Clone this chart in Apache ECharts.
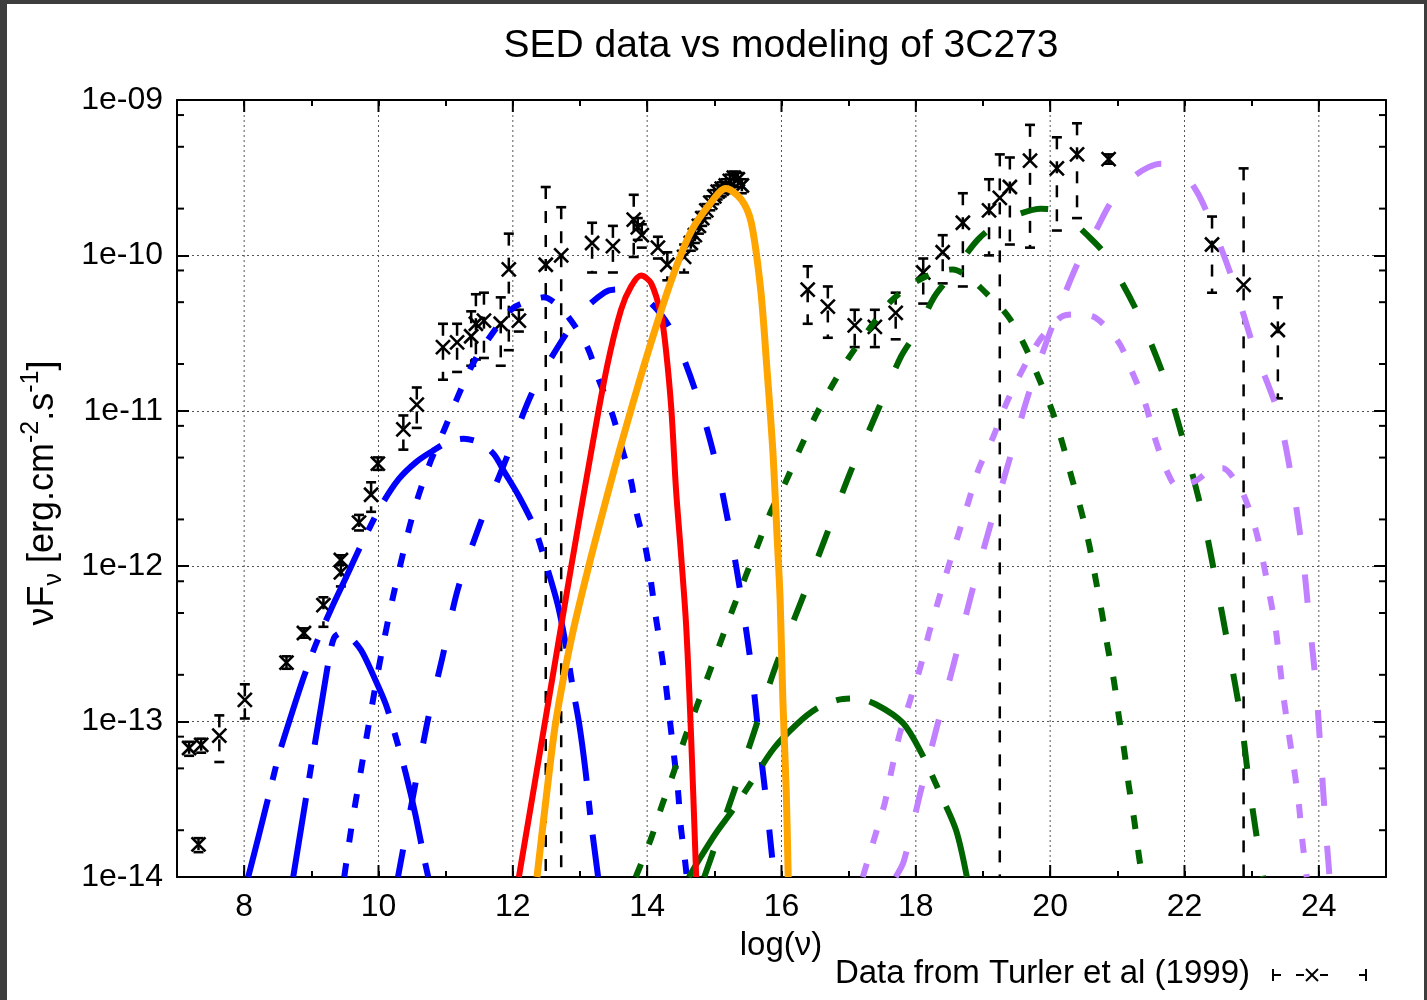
<!DOCTYPE html>
<html><head><meta charset="utf-8">
<script src="https://cdn.jsdelivr.net/npm/echarts@6/dist/echarts.min.js"></script>
<style>html,body{margin:0;padding:0;background:#fff}#c{width:1427px;height:1000px}</style>
</head><body><div id="c"></div>
<script>
// ---------------- DATA (x = log10 nu, y = log10 nuFnu) ----------------
const xTickValues = [8,10,12,14,16,18,20,22,24];
const yMinorTickValues = [2e-14,5e-14,8e-14,2e-13,5e-13,8e-13,2e-12,5e-12,8e-12,2e-11,5e-11,8e-11,2e-10,5e-10,8e-10];

// observed points (Turler et al 1999)
const obsX = [7.18,7.32,7.36,7.63,8.01,8.63,8.89,9.18,9.44,9.44,9.71,9.89,9.99,10.37,10.57,10.96,11.17,11.38,11.45,11.57,11.82,11.94,12.09,12.49,12.72,13.18,13.49,13.80,13.86,13.92,14.16,14.30,14.55,
  14.65,14.71,14.77,14.82,14.88,14.94,15.00,15.05,15.11,15.17,15.23,15.29,15.35,15.41,
  16.39,16.69,17.09,17.39,17.70,18.11,18.40,18.70,19.09,19.25,19.40,19.70,20.10,20.40,20.87,22.41,22.88,23.39];
const obsLogF = [-13.17,-13.79,-13.15,-13.09,-12.86,-12.62,-12.43,-12.25,-11.96,-12.04,-11.72,-11.54,-11.34,-11.12,-10.96,-10.59,-10.56,-10.52,-10.44,-10.42,-10.44,-10.09,-10.42,-10.06,-10.00,-9.92,-9.94,-9.77,-9.82,-9.87,-9.95,-10.06,-10.01,
  -9.92,-9.87,-9.81,-9.76,-9.71,-9.66,-9.62,-9.59,-9.57,-9.55,-9.52,-9.50,-9.51,-9.55,
  -10.22,-10.33,-10.45,-10.46,-10.37,-10.11,-9.98,-9.79,-9.71,-9.63,-9.56,-9.39,-9.44,-9.35,-9.38,-9.93,-10.19,-10.48];
const obsLogLo = [-13.22,-13.84,-13.20,-13.26,-12.98,-12.66,-12.46,-12.39,-11.99,-12.13,-11.77,-11.65,-11.38,-11.25,-11.11,-10.80,-10.75,-10.71,-10.67,-10.66,-10.71,-10.61,-10.49,-15,-15,-10.11,-10.11,-10.01,-9.90,-9.95,-10.02,-10.16,-10.11,
  -9.97,-9.92,-9.86,-9.81,-9.76,-9.71,-9.67,-9.64,-9.62,-9.60,-9.57,-9.55,-9.56,-9.60,
  -10.44,-10.53,-10.59,-10.59,-10.54,-10.31,-10.18,-10.20,-10.00,-15,-9.93,-9.95,-9.84,-9.76,-9.41,-10.24,-15,-10.92];
const obsLogHi = [-13.13,-13.75,-13.11,-12.96,-12.76,-12.58,-12.40,-12.20,-11.93,-11.99,-11.67,-11.46,-11.30,-11.03,-10.85,-10.44,-10.44,-10.36,-10.25,-10.24,-10.27,-9.86,-10.35,-9.56,-9.69,-9.79,-9.81,-9.61,-9.76,-9.80,-9.88,-9.98,-9.93,
  -9.88,-9.83,-9.77,-9.72,-9.67,-9.62,-9.58,-9.55,-9.53,-9.51,-9.48,-9.46,-9.47,-9.51,
  -10.07,-10.20,-10.35,-10.35,-10.24,-10.02,-9.87,-9.60,-9.51,-9.35,-9.37,-9.16,-9.24,-9.15,-9.35,-9.75,-9.44,-10.27];

// model curves
const blueSolidSmallX = [8.73,8.85,9.00,9.15,9.27,9.34,9.44,9.56,9.74,9.92,10.11,10.29,10.41,10.55,10.68,10.74];
const blueSolidSmallLogF = [-14.0,-13.68,-13.28,-12.89,-12.58,-12.46,-12.43,-12.45,-12.54,-12.70,-12.89,-13.15,-13.34,-13.60,-13.88,-14.0];

const blueSolidBigX = [8.06,8.22,8.37,8.52,8.70,8.89,9.07,9.29,9.53,9.79,10.04,10.30,10.56,10.80,11.04,11.27,11.53,11.72,11.87,12.09,12.32,12.49,12.67,12.79,12.90,12.99,13.08,13.16,13.27];
const blueSolidBigLogF = [-14.0,-13.73,-13.47,-13.21,-12.96,-12.71,-12.50,-12.28,-12.06,-11.82,-11.61,-11.44,-11.33,-11.26,-11.20,-11.18,-11.21,-11.28,-11.39,-11.55,-11.75,-11.98,-12.25,-12.51,-12.80,-13.02,-13.31,-13.63,-14.0];

const blueDottedX = [9.49,9.59,9.74,9.89,10.04,10.22,10.46,10.60,10.78,10.98,11.17,11.39,11.65,12.00,12.27,12.46,12.69,12.90,13.12,13.28,13.48,13.63,13.76,13.85,13.98,14.06,14.13,14.21,14.28,14.34,14.40,14.46,14.50,14.56,14.59];
const blueDottedLogF = [-14.0,-13.70,-13.31,-12.93,-12.57,-12.19,-11.75,-11.54,-11.32,-11.12,-10.92,-10.71,-10.53,-10.34,-10.29,-10.27,-10.33,-10.44,-10.60,-10.80,-11.02,-11.25,-11.45,-11.67,-11.89,-12.11,-12.33,-12.55,-12.77,-13.00,-13.22,-13.45,-13.67,-13.88,-14.0];

const blueDashedX = [10.29,10.72,10.95,11.18,11.51,11.91,12.27,12.64,13.02,13.36,13.54,13.76,14.06,14.37,14.74,15.02,15.23,15.40,15.55,15.66,15.78,15.89];
const blueDashedLogF = [-14.0,-13.02,-12.59,-12.15,-11.73,-11.30,-10.90,-10.61,-10.37,-10.24,-10.22,-10.24,-10.31,-10.49,-10.90,-11.33,-11.77,-12.20,-12.65,-13.09,-13.54,-14.0];

const redX = [12.09,12.48,12.87,13.16,13.40,13.61,13.76,13.91,14.06,14.21,14.28,14.36,14.43,14.50,14.58,14.65,14.73];
const redLogF = [-14.0,-13.00,-12.00,-11.28,-10.72,-10.35,-10.20,-10.13,-10.18,-10.39,-10.61,-10.99,-11.51,-11.90,-12.38,-13.05,-14.0];

const orangeX = [12.36,12.51,12.64,12.87,13.13,13.39,13.61,13.98,14.36,14.65,14.95,15.17,15.40,15.55,15.69,15.78,15.87,15.93,15.98,16.02,16.07,16.10];
const orangeLogF = [-14.0,-13.44,-13.00,-12.47,-12.00,-11.57,-11.22,-10.67,-10.16,-9.85,-9.66,-9.57,-9.64,-9.79,-10.22,-10.71,-11.25,-11.77,-12.22,-12.86,-13.44,-14.0];

const greenSolidX = [14.62,14.80,15.02,15.29,15.55,15.89,16.22,16.51,16.84,17.11,17.41,17.81,18.08,18.37,18.60,18.76];
const greenSolidLogF = [-14.0,-13.87,-13.72,-13.56,-13.39,-13.17,-13.02,-12.92,-12.86,-12.85,-12.89,-13.01,-13.20,-13.47,-13.70,-14.0];

const greenDottedX = [13.83,14.06,14.22,14.40,14.55,14.74,14.92,15.10,15.28,15.47,15.66,15.84,16.07,16.28,16.51,16.75,17.00,17.33,17.64,18.08,18.55,18.79,19.04,19.37,19.62,19.83,20.03,20.19,20.32,20.46,20.58,20.68,20.77,20.86,20.95,21.02,21.10,21.17,21.25,21.32,21.37];
const greenDottedLogF = [-14.0,-13.75,-13.54,-13.32,-13.12,-12.90,-12.69,-12.48,-12.27,-12.06,-11.85,-11.65,-11.45,-11.24,-11.03,-10.84,-10.66,-10.46,-10.29,-10.15,-10.09,-10.14,-10.24,-10.39,-10.58,-10.79,-11.00,-11.22,-11.43,-11.64,-11.86,-12.09,-12.30,-12.53,-12.74,-12.96,-13.18,-13.41,-13.63,-13.86,-14.0];

const greenDashedX = [14.85,14.94,15.26,15.59,15.90,16.29,16.66,17.03,17.24,17.45,17.78,18.03,18.27,18.52,18.92,19.24,19.56,19.86,20.09,20.23,20.53,20.81,21.28,21.71,22.00,22.27,22.47,22.66,22.84,22.97,23.12,23.17];
const greenDashedLogF = [-14.0,-13.89,-13.49,-13.07,-12.66,-12.23,-11.81,-11.39,-11.19,-10.98,-10.65,-10.48,-10.27,-10.13,-9.90,-9.79,-9.73,-9.70,-9.71,-9.74,-9.86,-9.99,-10.35,-10.80,-11.22,-11.67,-12.10,-12.54,-12.98,-13.43,-13.87,-14.0];

const purpleDottedX = [17.21,17.39,17.54,17.64,17.76,17.91,18.06,18.19,18.33,18.48,18.63,18.78,18.94,19.15,19.34,19.56,19.82,20.01,20.19,20.38,20.67,21.02,21.23,21.42,21.57,21.75,21.90,22.17,22.39,22.57,22.76,22.88,23.05,23.17,23.27,23.36,23.42,23.48,23.55,23.63,23.70,23.75,23.82];
const purpleDottedLogF = [-14.0,-13.74,-13.52,-13.31,-13.08,-12.87,-12.66,-12.44,-12.23,-12.01,-11.80,-11.59,-11.37,-11.17,-10.96,-10.76,-10.56,-10.46,-10.39,-10.38,-10.40,-10.56,-10.76,-10.96,-11.19,-11.40,-11.49,-11.45,-11.38,-11.37,-11.45,-11.54,-11.75,-11.97,-12.19,-12.41,-12.64,-12.86,-13.07,-13.30,-13.52,-13.75,-14.0];

const purpleDashedX = [17.70,17.82,18.06,18.31,18.57,18.82,19.10,19.39,19.68,20.01,20.41,20.68,20.92,21.28,21.65,21.92,22.17,22.35,22.72,23.03,23.39,23.60,23.75,23.85,23.96,24.03,24.10,24.16];
const purpleDashedLogF = [-14.0,-13.90,-13.47,-13.04,-12.62,-12.19,-11.75,-11.32,-10.89,-10.48,-10.05,-9.84,-9.65,-9.48,-9.41,-9.44,-9.58,-9.74,-10.16,-10.59,-11.01,-11.45,-11.89,-12.31,-12.78,-13.22,-13.67,-14.0];

// ---------------- CHART ----------------
const FONT = 'Liberation Sans, Arial, Helvetica, sans-serif';
const chart = echarts.init(document.getElementById('c'), null, {renderer:'canvas'});
const toPts = (xs, ls) => xs.map((x, i) => [x, Math.pow(10, ls[i])]);

const DASH_SOLID = [80, 20, 14, 20];
const DASH_DOT = [14, 21];
const DASH_DASH = [28, 40];

function curve(name, xs, ls, color, dash, width) {
  return {
    name, type:'line', data: toPts(xs, ls), xAxisIndex:0, yAxisIndex:0,
    symbol:'none', smooth:0.3, silent:true, z:3, clip:true,
    lineStyle:{color, width: width || 6, type: dash, cap:'butt', join:'round'}
  };
}

const axisLineStyle = {show:true, onZero:false, lineStyle:{color:'#000', width:2}};
const gridDot = {stroke:'#555', lineWidth:1, lineDash:[2,3]};

function yLabel(v) {
  const e = Math.round(Math.log10(v));
  return '1e-' + String(-e).padStart(2, '0');
}

const option = {
  animation:false,
  backgroundColor:'#ffffff',
  textStyle:{fontFamily:FONT},
  grid:{left:177, right:41, top:100, bottom:123},
  xAxis:[
    {type:'value', min:7, max:25, interval:1, position:'bottom',
     axisLine:axisLineStyle,
     axisTick:{show:true, inside:true, length:6, lineStyle:{color:'#000', width:2}},
     axisLabel:{show:true, margin:14, fontSize:32, color:'#000', fontFamily:FONT,
       formatter: v => (Math.round(v) % 2 === 0 ? String(Math.round(v)) : '')},
     splitLine:{show:false}},
    {type:'value', min:7, max:25, interval:1, position:'top',
     axisLine:axisLineStyle,
     axisTick:{show:true, inside:true, length:6, lineStyle:{color:'#000', width:2}},
     axisLabel:{show:false}, splitLine:{show:false}}
  ],
  yAxis:[
    {type:'log', logBase:10, min:1e-14, max:1e-9, position:'left',
     axisLine:axisLineStyle,
     axisTick:{show:true, inside:true, length:12, lineStyle:{color:'#000', width:2}},
     axisLabel:{show:true, margin:14, fontSize:32, color:'#000', fontFamily:FONT, formatter:yLabel},
     splitLine:{show:true, lineStyle:{type:[2,3], color:'#555', width:1}}},
    {type:'log', logBase:10, min:1e-14, max:1e-9, position:'right',
     axisLine:axisLineStyle,
     axisTick:{show:true, inside:true, length:12, lineStyle:{color:'#000', width:2}},
     axisLabel:{show:false}, splitLine:{show:false}}
  ],
  series:[
    { // vertical dotted grid lines at major x ticks
      type:'custom', name:'xgrid', silent:true, z:1, clip:false,
      data: xTickValues.map(v => [v, 1e-12]),
      renderItem:(params, api) => {
        const cs = params.coordSys;
        const px = api.coord([api.value(0), 1e-12])[0];
        return {type:'line', shape:{x1:px, y1:cs.y, x2:px, y2:cs.y + cs.height}, style:gridDot};
      }
    },
    { // error bars + crosses
      type:'custom', name:'Data from Turler et al (1999)', silent:true, z:2, clip:true,
      data: obsX.map((x, i) => [x, Math.pow(10, obsLogF[i]), Math.pow(10, obsLogLo[i]), Math.pow(10, obsLogHi[i])]),
      encode:{x:0, y:1},
      renderItem:(params, api) => {
        const x = api.value(0);
        const p = api.coord([x, api.value(1)]);
        const pl = api.coord([x, api.value(2)]);
        const ph = api.coord([x, api.value(3)]);
        const s = 7, c = 5;
        const st = {stroke:'#000', lineWidth:2.6};
        return {type:'group', children:[
          {type:'line', shape:{x1:p[0], y1:ph[1], x2:p[0], y2:pl[1]}, style:{stroke:'#000', lineWidth:2.5, lineDash:[12,12]}},
          {type:'line', shape:{x1:p[0]-c, y1:ph[1], x2:p[0]+c, y2:ph[1]}, style:st},
          {type:'line', shape:{x1:p[0]-c, y1:pl[1], x2:p[0]+c, y2:pl[1]}, style:st},
          {type:'line', shape:{x1:p[0]-s, y1:p[1]-s, x2:p[0]+s, y2:p[1]+s}, style:st},
          {type:'line', shape:{x1:p[0]-s, y1:p[1]+s, x2:p[0]+s, y2:p[1]-s}, style:st}
        ]};
      }
    },
    curve('blueSolidSmall', blueSolidSmallX, blueSolidSmallLogF, '#0000ff', DASH_SOLID),
    curve('blueSolidBig', blueSolidBigX, blueSolidBigLogF, '#0000ff', DASH_SOLID),
    curve('blueDotted', blueDottedX, blueDottedLogF, '#0000ff', DASH_DOT),
    curve('blueDashed', blueDashedX, blueDashedLogF, '#0000ff', DASH_DASH),
    curve('greenDotted', greenDottedX, greenDottedLogF, '#006400', DASH_DOT),
    curve('greenDashed', greenDashedX, greenDashedLogF, '#006400', DASH_DASH),
    curve('greenSolid', greenSolidX, greenSolidLogF, '#006400', DASH_SOLID),
    curve('purpleDotted', purpleDottedX, purpleDottedLogF, '#c080ff', DASH_DOT),
    curve('purpleDashed', purpleDashedX, purpleDashedLogF, '#c080ff', DASH_DASH),
    curve('red', redX, redLogF, '#ff0000', 'solid', 6),
    curve('orange', orangeX, orangeLogF, '#ffa500', 'solid', 7),
    { // long major x ticks (top and bottom)
      type:'custom', name:'xmajor', silent:true, z:10, clip:false,
      data: xTickValues.map(v => [v, 1e-12]),
      renderItem:(params, api) => {
        const cs = params.coordSys;
        const px = api.coord([api.value(0), 1e-12])[0];
        const st = {stroke:'#000', lineWidth:2};
        return {type:'group', children:[
          {type:'line', shape:{x1:px, y1:cs.y + cs.height, x2:px, y2:cs.y + cs.height - 12}, style:st},
          {type:'line', shape:{x1:px, y1:cs.y, x2:px, y2:cs.y + 12}, style:st}
        ]};
      }
    },
    { // minor y ticks (2,5,8 per decade) left and right
      type:'custom', name:'yminor', silent:true, z:10, clip:false,
      data: yMinorTickValues.map(v => [7, v]),
      renderItem:(params, api) => {
        const cs = params.coordSys;
        const py = api.coord([7, api.value(1)])[1];
        const st = {stroke:'#000', lineWidth:2};
        return {type:'group', children:[
          {type:'line', shape:{x1:cs.x, y1:py, x2:cs.x + 7, y2:py}, style:st},
          {type:'line', shape:{x1:cs.x + cs.width, y1:py, x2:cs.x + cs.width - 7, y2:py}, style:st}
        ]};
      }
    }
  ],
  graphic:{elements:[
    {type:'rect', shape:{x:0, y:0, width:7, height:1000}, style:{fill:'#3d3d3d'}, z:100, silent:true},
    {type:'rect', shape:{x:0, y:0, width:1427, height:4}, style:{fill:'#3d3d3d'}, z:100, silent:true},
    {type:'rect', shape:{x:1424, y:0, width:3, height:1000}, style:{fill:'#3d3d3d'}, z:100, silent:true},
    {type:'text', x:781, y:46, z:100, silent:true,
     style:{text:'SED data vs modeling of 3C273', fontSize:39, fontFamily:FONT, fill:'#000', align:'center', verticalAlign:'middle'}},
    {type:'text', x:781, y:946, z:100, silent:true,
     style:{text:'log(ν)', fontSize:33, fontFamily:FONT, fill:'#000', align:'center', verticalAlign:'middle'}},
    {type:'text', x:43, y:493, rotation:Math.PI/2, z:100, silent:true,
     style:{text:'{a|νF}{b|ν}{a| [erg.cm}{c|-2}{a|.s}{c|-1}{a|]}', align:'center', verticalAlign:'middle',
       rich:{
         a:{fontSize:36, fontFamily:FONT, fill:'#000', lineHeight:48},
         b:{fontSize:25, fontFamily:FONT, fill:'#000', lineHeight:25, verticalAlign:'bottom'},
         c:{fontSize:25, fontFamily:FONT, fill:'#000', lineHeight:25, verticalAlign:'top'}
       }}},
    {type:'text', x:1250, y:974, z:100, silent:true,
     style:{text:'Data from Turler et al (1999)', fontSize:33, fontFamily:FONT, fill:'#000', align:'right', verticalAlign:'middle'}},
    {type:'line', shape:{x1:1273, y1:969, x2:1273, y2:981}, style:{stroke:'#000', lineWidth:2}, z:100, silent:true},
    {type:'line', shape:{x1:1273, y1:975, x2:1281, y2:975}, style:{stroke:'#000', lineWidth:2}, z:100, silent:true},
    {type:'line', shape:{x1:1296, y1:975, x2:1304, y2:975}, style:{stroke:'#000', lineWidth:2}, z:100, silent:true},
    {type:'line', shape:{x1:1306, y1:969, x2:1318, y2:981}, style:{stroke:'#000', lineWidth:2}, z:100, silent:true},
    {type:'line', shape:{x1:1306, y1:981, x2:1318, y2:969}, style:{stroke:'#000', lineWidth:2}, z:100, silent:true},
    {type:'line', shape:{x1:1320, y1:975, x2:1328, y2:975}, style:{stroke:'#000', lineWidth:2}, z:100, silent:true},
    {type:'line', shape:{x1:1359, y1:975, x2:1366, y2:975}, style:{stroke:'#000', lineWidth:2}, z:100, silent:true},
    {type:'line', shape:{x1:1366, y1:969, x2:1366, y2:981}, style:{stroke:'#000', lineWidth:2}, z:100, silent:true}
  ]}
};
chart.setOption(option);
</script>
</body></html>
